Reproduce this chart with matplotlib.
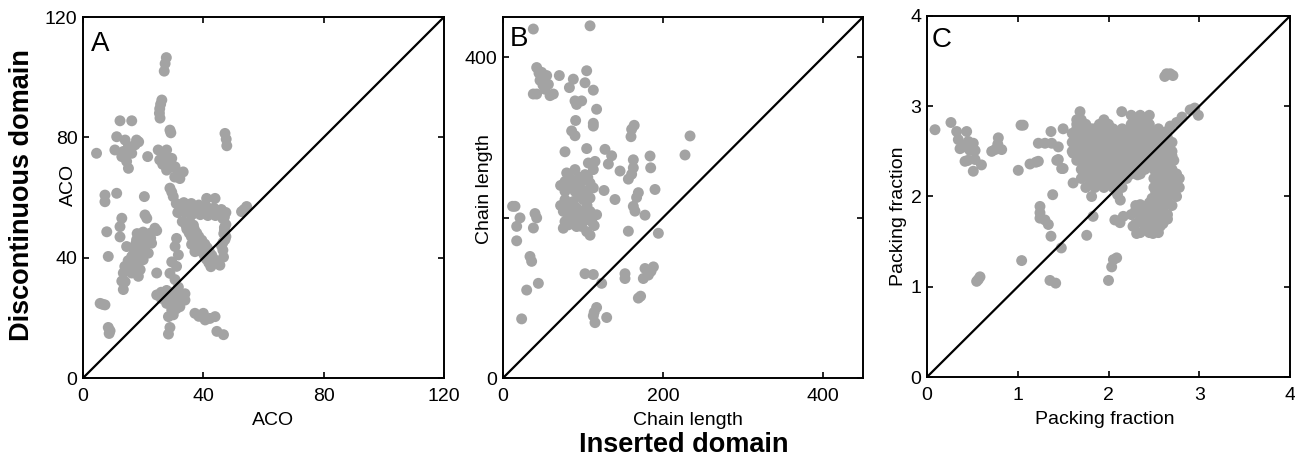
import matplotlib
matplotlib.use("Agg")
import matplotlib.pyplot as plt

plt.rcParams['font.family'] = ['Liberation Sans', 'DejaVu Sans']

# ---- data -------------------------------------------------------------
# Absolute contact order (ACO): inserted domain vs discontinuous domain
aco_points = [
    (27.7, 106.5), (27.3, 104.5), (27.0, 102.0),
    (26.2, 92.4), (25.8, 91.0), (25.5, 89.5), (25.4, 88.0), (25.6, 86.4),
    (28.9, 82.4), (29.2, 81.5),
    (12.3, 85.5), (16.2, 85.5),
    (47.2, 81.3), (47.6, 79.4), (47.8, 77.2),
    (11.2, 80.2), (14.0, 79.1), (17.8, 79.1), (15.1, 77.0), (10.6, 75.8), (12.9, 73.6),
    (14.5, 72.0), (15.1, 69.7), (17.3, 77.5), (16.2, 74.7), (13.4, 75.3), (18.5, 78.5),
    (4.5, 74.7), (21.5, 73.6),
    (25.0, 75.8), (27.8, 75.8), (25.5, 72.5), (29.5, 73.0), (30.6, 70.2), (27.8, 69.1),
    (33.3, 68.5), (32.2, 66.3), (26.5, 71.0), (29.0, 70.0),
    (28.5, 72.0), (27.0, 74.0), (31.5, 67.5), (30.5, 66.8),
    (28.9, 63.1), (30.0, 60.3), (29.5, 61.8),
    (41.1, 59.7), (43.9, 59.7),
    (54.4, 57.0), (52.7, 55.3), (53.5, 56.0),
    (31.0, 58.0), (33.5, 58.3), (36.0, 58.0), (38.5, 57.5), (41.0, 57.0), (43.5, 56.5),
    (46.0, 56.0), (47.5, 55.0), (31.5, 55.0), (34.0, 55.0), (36.5, 54.5), (39.0, 54.3),
    (41.5, 54.0), (44.0, 54.0),
    (32.2, 56.5), (34.8, 56.5), (37.3, 56.0), (39.8, 55.7), (42.3, 55.3), (44.8, 55.0),
    (47.0, 53.5),
    (33.0, 52.0), (35.5, 52.0), (34.5, 49.5), (37.0, 49.5), (36.0, 47.0), (38.5, 47.0),
    (38.0, 44.5), (40.5, 44.5), (39.5, 42.0), (42.0, 42.0), (41.0, 39.5), (43.5, 39.5),
    (42.5, 37.0),
    (34.2, 50.8), (36.7, 50.8), (35.3, 48.2), (37.8, 48.2), (37.0, 45.8), (39.5, 45.8),
    (38.8, 43.3), (41.3, 43.3), (40.3, 40.8), (42.8, 40.8), (41.8, 38.3), (44.3, 38.3),
    (46.5, 53.0), (47.5, 51.0), (47.0, 49.0), (47.5, 47.0), (46.5, 45.0),
    (47.0, 50.0), (46.8, 48.0), (47.2, 46.0), (46.0, 44.0),
    (37.2, 42.0), (46.7, 40.2), (45.5, 37.5), (44.5, 38.5), (46.5, 42.5), (36.1, 44.4),
    (7.3, 60.8), (7.3, 58.6), (11.2, 61.4), (20.4, 60.3), (20.6, 54.2), (21.2, 53.1),
    (12.9, 53.1), (12.3, 50.3), (7.9, 48.6),
    (23.9, 49.8), (22.3, 48.1), (19.5, 46.5), (17.8, 45.9), (20.6, 43.7), (18.4, 42.1),
    (21.7, 41.5), (16.2, 40.4), (20.0, 39.3), (17.8, 37.7), (13.9, 37.1), (13.4, 34.9),
    (16.2, 34.9), (18.4, 33.8), (12.9, 32.2), (13.4, 29.4), (12.3, 46.9), (14.5, 43.7),
    (22.8, 44.8), (19.0, 44.0), (17.0, 42.0), (15.0, 39.0), (21.0, 47.5), (24.5, 49.0),
    (14.0, 32.0),
    (18.5, 40.5), (19.8, 42.5), (16.0, 37.0), (15.2, 36.0), (19.0, 36.0), (17.5, 44.5),
    (21.0, 45.5), (22.5, 46.5), (18.0, 48.0), (20.0, 48.5),
    (8.4, 40.4), (24.5, 34.9),
    (31.1, 46.4), (30.6, 43.7), (31.7, 40.9), (29.5, 38.6), (31.1, 37.1), (28.9, 34.8),
    (30.6, 32.7),
    (24.5, 27.6), (27.8, 29.1), (31.7, 30.2), (33.9, 28.0), (30.6, 25.9), (27.8, 24.8),
    (33.9, 25.9), (29.5, 22.6), (28.4, 20.4), (32.2, 23.7), (29.0, 27.0), (32.5, 27.5),
    (26.0, 26.5),
    (30.2, 28.5), (28.5, 25.5), (31.0, 23.0), (30.0, 21.0), (26.0, 28.5),
    (28.9, 16.8), (28.4, 14.6),
    (37.2, 21.5), (40.0, 21.5), (42.2, 19.8), (43.9, 20.4), (40.6, 19.3), (38.5, 20.5),
    (44.5, 15.5), (46.7, 14.4),
    (5.7, 24.8), (7.3, 24.3), (6.5, 24.5),
    (8.4, 16.8), (9.0, 15.7), (8.7, 14.8),
]

# Chain length (residues): inserted domain vs discontinuous domain
chain_points = [
    (37.9, 435), (108.8, 439),
    (42.1, 387), (48.3, 381), (54.6, 377), (46.3, 371), (56.7, 366), (52.5, 360),
    (37.9, 354), (42.0, 354), (58.8, 352), (62.9, 354), (50.0, 365), (45.0, 380),
    (70.4, 377), (87.9, 372.5), (83.0, 362), (104.6, 383), (102.5, 368), (112.9, 358.8),
    (90.0, 345.4), (98.3, 345.4), (92.0, 341), (117.0, 335), (90.8, 321), (112.9, 314),
    (112.9, 317.5), (85.8, 308), (90.0, 302),
    (164.0, 315), (160.8, 310), (160.0, 300.8), (233.8, 301.7), (227.5, 278),
    (77.5, 282), (104.6, 286), (127.5, 285), (135.8, 277), (131.7, 266.7), (106.7, 268),
    (115.0, 270), (146.3, 258),
    (162.9, 272), (162.9, 262), (160.8, 254), (156.7, 247.9), (183.8, 276.7), (184.6, 262),
    (190.0, 235), (169.2, 231), (167.0, 225), (140.0, 222.5), (126.3, 233.75), (162.9, 214),
    (165.0, 208), (177.5, 203), (156.7, 183), (194.2, 180.4),
    (79.6, 255.6), (90.0, 259.8), (102.5, 253.5), (112.9, 259.8), (77.5, 245), (87.9, 245),
    (98.3, 245), (108.8, 243), (77.5, 232.7), (90.0, 232.7), (102.5, 232.7), (112.9, 237),
    (77.5, 222.3), (87.9, 220), (100.4, 222.3), (108.8, 224.4), (75.4, 207.7), (85.8, 207.7),
    (96.3, 207.7), (108.8, 207.7), (117.0, 203.5), (77.5, 195), (90.0, 197.5), (100.4, 195),
    (110.8, 195), (75.4, 186.7), (92.0, 188.8), (104.6, 182.5), (108.8, 178), (81.7, 203.5),
    (83.0, 215), (95.0, 238), (105.0, 215),
    (83.0, 250), (95.0, 250), (106.0, 250), (83.0, 238), (95.0, 227), (106.0, 227),
    (81.0, 213), (92.0, 212), (103.0, 210), (83.0, 200), (95.0, 201), (106.0, 200),
    (82.0, 191), (98.0, 189), (114.0, 190), (72.0, 215), (72.0, 240),
    (15.0, 214), (21.25, 199.6), (17.1, 189), (42.1, 199.6), (38.0, 187), (17.1, 171),
    (33.75, 151.5), (35.8, 145.4), (44.2, 118), (29.6, 109.6), (23.3, 73.7), (12.0, 214),
    (40.0, 205),
    (102.5, 130), (112.9, 129), (123.3, 118), (152.5, 130), (152.5, 124), (177.5, 136.5),
    (188.0, 138.5), (181.7, 128.3), (175.4, 124), (185.0, 133), (169.2, 99.6), (172.0, 102),
    (117.0, 87.9), (112.9, 77.5), (129.6, 75.4), (115.0, 69), (114.0, 82),
]

# Packing fraction: inserted domain vs discontinuous domain
packing_points = [
    (0.088, 2.74), (0.264, 2.82), (0.327, 2.72), (0.437, 2.72), (0.345, 2.63), (0.455, 2.61),
    (0.51, 2.59), (0.364, 2.53), (0.474, 2.51), (0.53, 2.51), (0.42, 2.55), (0.419, 2.39),
    (0.529, 2.41), (0.60, 2.35), (0.51, 2.28), (0.45, 2.40),
    (0.786, 2.65), (0.75, 2.52), (0.823, 2.52), (0.713, 2.50), (0.78, 2.58),
    (1.036, 2.79), (1.06, 2.79), (1.006, 2.29), (1.135, 2.36), (1.20, 2.38), (1.227, 2.39),
    (1.227, 2.59), (1.30, 2.59), (1.374, 2.59), (1.447, 2.55), (1.366, 2.72), (1.447, 2.41),
    (1.484, 2.31), (1.385, 2.02),
    (1.245, 1.89), (1.245, 1.82), (1.245, 1.76), (1.30, 1.74), (1.337, 1.69), (1.366, 1.56),
    (1.043, 1.29), (0.547, 1.06), (0.584, 1.11), (0.565, 1.08), (1.355, 1.07), (1.418, 1.04),
    (1.50, 2.75), (1.43, 2.40), (1.50, 2.31), (1.61, 2.48), (1.61, 2.15), (1.686, 2.94),
    (1.65, 2.85), (1.814, 2.75), (1.814, 2.00), (1.83, 1.78), (1.76, 1.57), (1.48, 1.43),
    (2.07, 1.74), (2.163, 1.78), (2.127, 1.71), (2.27, 1.67), (2.31, 1.59), (2.49, 1.59),
    (2.57, 1.67), (2.054, 1.30), (2.09, 1.32), (2.035, 1.22), (2.00, 1.07), (2.13, 1.96),
    (2.146, 2.94),
    (2.64, 3.36), (2.71, 3.34), (2.62, 3.33), (2.68, 3.36),
    (2.93, 2.96), (2.99, 2.90), (2.95, 2.98), (2.90, 2.96), (2.75, 2.82), (2.81, 2.88),
    (2.68, 2.78), (2.64, 2.72),
    (2.25, 2.90), (2.35, 2.90), (2.45, 2.90),
    (1.70, 2.85), (1.95, 2.85), (2.30, 2.85), (2.40, 2.85),
    (1.65, 2.80), (1.75, 2.80), (1.90, 2.80), (2.00, 2.80), (2.25, 2.80), (2.35, 2.80),
    (2.45, 2.80),
    (1.65, 2.75), (1.75, 2.75), (1.85, 2.75), (1.95, 2.75), (2.05, 2.75), (2.15, 2.75),
    (2.25, 2.75), (2.35, 2.75), (2.45, 2.75), (2.55, 2.75),
    (1.60, 2.70), (1.70, 2.70), (1.80, 2.70), (1.90, 2.70), (2.00, 2.70), (2.10, 2.70),
    (2.20, 2.70), (2.30, 2.70), (2.40, 2.70), (2.50, 2.70), (2.60, 2.70),
    (1.65, 2.65), (1.75, 2.65), (1.85, 2.65), (1.95, 2.65), (2.05, 2.65), (2.15, 2.65),
    (2.25, 2.65), (2.35, 2.65), (2.45, 2.65), (2.55, 2.65), (2.65, 2.65),
    (1.60, 2.60), (1.70, 2.60), (1.80, 2.60), (1.90, 2.60), (2.00, 2.60), (2.10, 2.60),
    (2.20, 2.60), (2.30, 2.60), (2.40, 2.60), (2.50, 2.60), (2.60, 2.60), (2.70, 2.60),
    (1.65, 2.55), (1.75, 2.55), (1.85, 2.55), (1.95, 2.55), (2.05, 2.55), (2.15, 2.55),
    (2.25, 2.55), (2.35, 2.55), (2.45, 2.55), (2.55, 2.55), (2.65, 2.55),
    (1.60, 2.50), (1.70, 2.50), (1.80, 2.50), (1.90, 2.50), (2.00, 2.50), (2.10, 2.50),
    (2.20, 2.50), (2.30, 2.50), (2.40, 2.50), (2.50, 2.50), (2.60, 2.50), (2.70, 2.50),
    (1.70, 2.45), (1.80, 2.45), (1.90, 2.45), (2.00, 2.45), (2.10, 2.45), (2.20, 2.45),
    (2.30, 2.45), (2.40, 2.45), (2.50, 2.45), (2.60, 2.45), (2.70, 2.45),
    (1.65, 2.40), (1.75, 2.40), (1.85, 2.40), (1.95, 2.40), (2.05, 2.40), (2.15, 2.40),
    (2.25, 2.40), (2.35, 2.40), (2.45, 2.40), (2.55, 2.40), (2.65, 2.40), (2.72, 2.40),
    (1.75, 2.35), (1.85, 2.35), (1.95, 2.35), (2.05, 2.35), (2.15, 2.35), (2.25, 2.35),
    (2.35, 2.35), (2.45, 2.35), (2.55, 2.35), (2.65, 2.35),
    (1.70, 2.30), (1.80, 2.30), (1.90, 2.30), (2.00, 2.30), (2.10, 2.30), (2.20, 2.30),
    (2.30, 2.30), (2.40, 2.30), (2.50, 2.30), (2.60, 2.30), (2.70, 2.30),
    (1.75, 2.25), (1.85, 2.25), (1.95, 2.25), (2.05, 2.25), (2.15, 2.25), (2.25, 2.25),
    (2.35, 2.25), (2.55, 2.25), (2.65, 2.25), (2.75, 2.25),
    (1.70, 2.20), (1.80, 2.20), (1.90, 2.20), (2.00, 2.20), (2.10, 2.20), (2.20, 2.20),
    (2.32, 2.24), (2.50, 2.20), (2.60, 2.20), (2.70, 2.20), (2.78, 2.20),
    (1.80, 2.15), (1.90, 2.15), (2.00, 2.15), (2.10, 2.15), (2.55, 2.15), (2.65, 2.15),
    (2.75, 2.15),
    (1.75, 2.10), (1.85, 2.10), (1.95, 2.10), (2.05, 2.10), (2.15, 2.10), (2.50, 2.10),
    (2.60, 2.10), (2.70, 2.10), (2.78, 2.10),
    (2.52, 2.05), (2.60, 2.05), (2.70, 2.05),
    (2.10, 2.02), (2.48, 1.98), (2.55, 2.00), (2.65, 2.00), (2.75, 2.00),
    (2.35, 1.91), (2.45, 1.93), (2.55, 1.95), (2.65, 1.95),
    (2.30, 1.90), (2.40, 1.88), (2.50, 1.90), (2.60, 1.90), (2.70, 1.90),
    (2.30, 1.85), (2.40, 1.85), (2.50, 1.85), (2.60, 1.85),
    (2.25, 1.80), (2.35, 1.80), (2.45, 1.80), (2.55, 1.80), (2.65, 1.80),
    (2.35, 1.75), (2.45, 1.75), (2.55, 1.75), (2.65, 1.75),
    (2.30, 1.70), (2.40, 1.70), (2.50, 1.70), (2.60, 1.70),
    (2.40, 1.65), (2.50, 1.65),
    (2.35, 1.60), (2.45, 1.60), (2.55, 1.60),
]

panel_letters = ["A", "B", "C"]
axis_titles = ["ACO", "Chain length", "Packing fraction"]
axis_limits = [120, 450, 4]
xtick_values = [[0, 40, 80, 120], [0, 200, 400], [0, 1, 2, 3, 4]]
ytick_values = [[0, 40, 80, 120], [0, 200, 400], [0, 1, 2, 3, 4]]
ytick_labels = [["0", "40", "80", "120"], ["0", "", "400"], ["0", "1", "2", "3", "4"]]

# ---- figure -----------------------------------------------------------
W, H = 1295, 461
fig = plt.figure(figsize=(W / 100, H / 100), dpi=100)

# axes boxes in pixels: left, top, right, bottom
boxes = [(83, 17, 444, 378), (503, 17, 863, 378), (927, 16, 1290, 377)]
ylabel_pos = [(-0.017, 0.535), (-0.028, 0.524), (-0.055, 0.446)]
xlabel_pos = [(0.526, -0.095), (0.514, -0.095), (0.49, -0.095)]
letter_pos = [(0.022, 0.961), (0.02, 0.975), (0.012, 0.970)]

dot_color = "#a3a3a3"
datasets = [aco_points, chain_points, packing_points]

for i, pts in enumerate(datasets):
    l, t, r, b = boxes[i]
    ax = fig.add_axes([l / W, 1 - b / H, (r - l) / W, (b - t) / H])
    xs = [p[0] for p in pts]
    ys = [p[1] for p in pts]
    lim = axis_limits[i]
    ax.scatter(xs, ys, s=62, color=dot_color, edgecolors="none", zorder=2)
    ax.plot([0, lim], [0, lim], color="black", lw=1.6, zorder=3)
    ax.set_xlim(0, lim)
    ax.set_ylim(0, lim)
    ax.set_xticks(xtick_values[i])
    ax.set_yticks(ytick_values[i])
    ax.set_yticklabels(ytick_labels[i])
    ax.tick_params(direction="in", length=4, width=1.2, top=True, right=True,
                   labelsize=14, colors="black")
    ax.tick_params(axis="x", pad=7)
    ax.tick_params(axis="y", pad=4)
    for sp in ax.spines.values():
        sp.set_linewidth(1.4)
    ax.set_xlabel(axis_titles[i], fontsize=14)
    ax.set_ylabel(axis_titles[i], fontsize=14)
    ax.xaxis.set_label_coords(*xlabel_pos[i])
    ax.yaxis.set_label_coords(*ylabel_pos[i])
    ax.text(letter_pos[i][0], letter_pos[i][1], panel_letters[i], transform=ax.transAxes,
            fontsize=20, ha="left", va="top")

fig.text(22 / W, 1 - 195 / H, "Discontinuous domain", rotation=90,
         fontsize=19.5, fontweight="bold", ha="center", va="center")
fig.text(684 / W, 1 - 445 / H, "Inserted domain",
         fontsize=19.5, fontweight="bold", ha="center", va="center")

fig.savefig("out.png", dpi=100)
